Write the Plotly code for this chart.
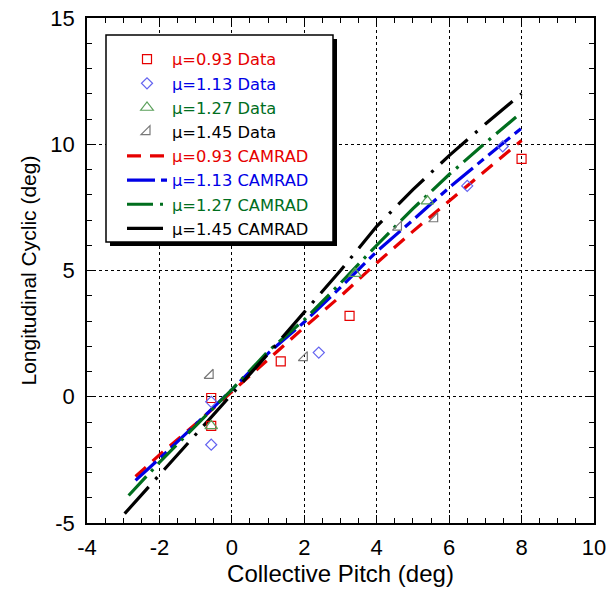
import plotly.graph_objects as go

# ---- Data ----
d093_x = [-0.57, -0.57, 1.35, 3.25, 8.0]
d093_y = [-0.05, -1.15, 1.40, 3.20, 9.42]

d113_x = [-0.57, -0.57, 2.40, 6.50, 7.48]
d113_y = [-0.20, -1.90, 1.75, 8.35, 9.92]

d127_x = [-0.57, 3.40, 5.40]
d127_y = [-1.15, 4.88, 7.75]

d145_x = [-0.60, 2.00, 4.60, 5.60]
d145_y = [0.85, 1.55, 6.72, 7.05]

c093_x = [-2.66, -2.0, -1.0, 0.0, 1.0, 2.0, 3.0, 4.0, 5.0, 6.0, 7.0, 8.0]
c093_y = [-3.16, -2.30, -1.08, 0.20, 1.50, 2.75, 3.98, 5.30, 6.55, 7.76, 8.95, 10.15]

c113_x = [-2.66, -2.0, -1.0, 0.0, 1.0, 2.0, 3.0, 4.0, 5.0, 6.0, 7.0, 8.0]
c113_y = [-3.31, -2.45, -1.10, 0.28, 1.72, 2.96, 4.33, 5.75, 7.00, 8.28, 9.47, 10.64]

c127_x = [-2.85, -2.0, -1.0, 0.0, 1.0, 2.0, 3.0, 4.0, 5.0, 6.0, 7.0, 8.0]
c127_y = [-3.91, -2.60, -1.15, 0.28, 1.80, 3.05, 4.50, 6.00, 7.45, 8.80, 10.05, 11.26]

c145_x = [-2.96, -2.0, -1.0, 0.0, 1.0, 2.0, 3.0, 4.0, 5.0, 6.0, 7.0, 8.0]
c145_y = [-4.63, -3.10, -1.50, 0.12, 1.70, 3.35, 5.00, 6.75, 8.20, 9.55, 10.80, 12.00]

x_ticks = [-4, -2, 0, 2, 4, 6, 8, 10]
y_ticks = [-5, 0, 5, 10, 15]

RED = "rgb(230,0,0)"
BLUE = "rgb(0,0,230)"
GREEN = "rgb(0,110,30)"
BLACK = "rgb(0,0,0)"

FONT = "Liberation Sans, Arial, sans-serif"
LEGFONT = "DejaVu Sans, Liberation Sans, sans-serif"

# plot area in pixels (figure 608 x 592)
L, R, T, B = 87, 594, 18, 523
PW, PH = R - L, B - T

def px(x):
    return (x - L) / PW

def py(y):
    return (B - y) / PH

def lab(text, color):
    return f'<span style="color:{color}">{text}</span>'

fig = go.Figure()

# CAMRAD lines (drawn first, listed after data in legend)
lines = [
    (c093_x, c093_y, RED, "14px,9px", "μ=0.93 CAMRAD", 5),
    (c113_x, c113_y, BLUE, "28px,6px,8px,6px", "μ=1.13 CAMRAD", 6),
    (c127_x, c127_y, GREEN, "26px,7px,3px,7px", "μ=1.27 CAMRAD", 7),
    (c145_x, c145_y, BLACK, "36px,10px,3px,10px", "μ=1.45 CAMRAD", 8),
]
for x, y, c, dash, name, rank in lines:
    fig.add_trace(go.Scatter(x=x, y=y, mode="lines", name=lab(name, c),
                             line=dict(color=c, width=3.2, dash=dash),
                             legendrank=rank))

markers = [
    (d093_x, d093_y, RED, "square-open", 9, "μ=0.93 Data", RED, 1),
    (d113_x, d113_y, "rgb(100,100,240)", "diamond-open", 8.5, "μ=1.13 Data", BLUE, 2),
    (d127_x, d127_y, "rgb(90,160,90)", "triangle-up-open", 11, "μ=1.27 Data", GREEN, 3),
    (d145_x, d145_y, "rgb(120,120,120)", "triangle-se-open", 10, "μ=1.45 Data", BLACK, 4),
]
for x, y, mc, sym, sz, name, tc, rank in markers:
    fig.add_trace(go.Scatter(x=x, y=y, mode="markers", name=lab(name, tc),
                             marker=dict(symbol=sym, size=sz, color=mc,
                                         line=dict(width=1.2, color=mc)),
                             legendrank=rank))

axis_common = dict(
    showline=True, linecolor="black", linewidth=1.5, mirror="allticks",
    ticks="inside", ticklen=8, tickwidth=1, tickcolor="black",
    showgrid=True, gridcolor="black", gridwidth=1.2, griddash="dot",
    zeroline=False, automargin=False,
    tickfont=dict(family=FONT, size=22, color="black"),
)

fig.update_xaxes(
    range=[-4, 10], tickvals=x_ticks, ticktext=[str(v) for v in x_ticks],
    minor=dict(dtick=0.5, ticks="inside", ticklen=5, tickcolor="black", showgrid=False),
    title=dict(text="Collective Pitch (deg)", font=dict(family=FONT, size=24, color="black"), standoff=4),
    ticklabelstandoff=4,
    **axis_common,
)
fig.update_yaxes(
    range=[-5, 15], tickvals=y_ticks, ticktext=[str(v) for v in y_ticks],
    minor=dict(dtick=1, ticks="inside", ticklen=5, tickcolor="black", showgrid=False),
    title=dict(text="Longitudinal Cyclic (deg)", font=dict(family=FONT, size=21, color="black"), standoff=8),
    ticklabelstandoff=6,
    **axis_common,
)

# legend frame with drop shadow
fig.add_shape(type="rect", xref="paper", yref="paper",
              x0=px(110), x1=px(337), y0=py(246), y1=py(39),
              fillcolor="black", line=dict(width=0), layer="above")
fig.add_shape(type="rect", xref="paper", yref="paper",
              x0=px(106), x1=px(333), y0=py(242), y1=py(35),
              fillcolor="white", line=dict(width=1.5, color="black"), layer="above")

fig.update_layout(
    width=608, height=592,
    margin=dict(l=L, r=608 - R, t=T, b=592 - B),
    paper_bgcolor="white", plot_bgcolor="white",
    font=dict(family=FONT, size=18, color="black"),
    showlegend=True,
    legend=dict(
        x=px(122), y=py(42), xanchor="left", yanchor="top",
        bgcolor="rgba(0,0,0,0)", borderwidth=0,
        font=dict(family=LEGFONT, size=16.3),
        tracegroupgap=0, itemwidth=40,
    ),
)

fig.write_html("out.html")
